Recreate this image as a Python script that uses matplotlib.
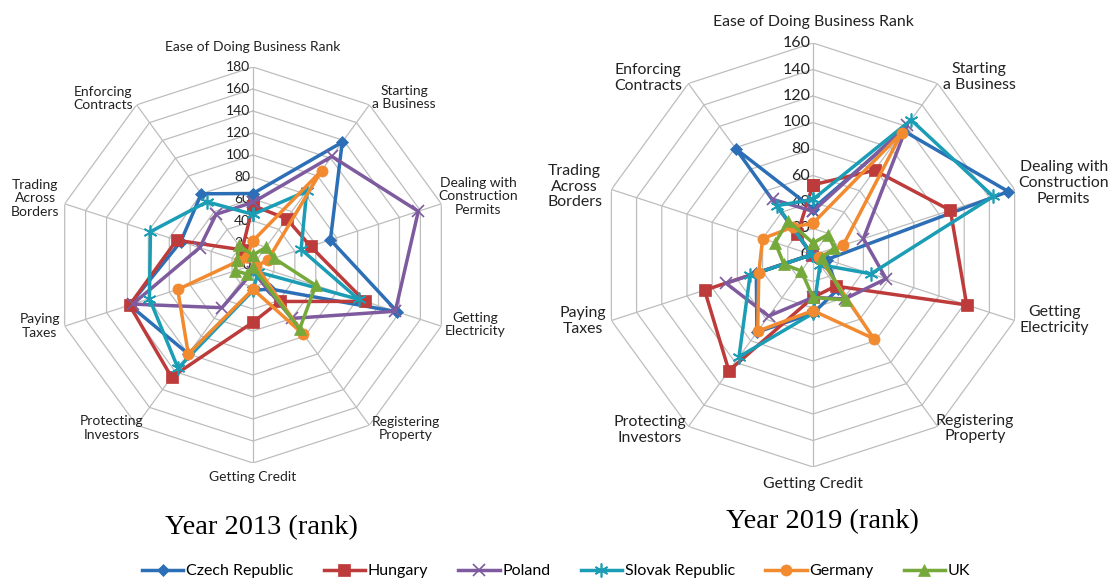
import numpy as np
import matplotlib.pyplot as plt
from matplotlib.lines import Line2D

plt.rcParams['font.family'] = ['Lato', 'DejaVu Sans']

categories = ["Ease of Doing Business Rank", "Starting\na Business",
              "Dealing with\nConstruction\nPermits", "Getting\nElectricity",
              "Registering\nProperty", "Getting Credit", "Protecting\nInvestors",
              "Paying\nTaxes", "Trading\nAcross\nBorders", "Enforcing\nContracts"]
countries = ["Czech Republic", "Hungary", "Poland", "Slovak Republic", "Germany", "UK"]

# 2013 ranks
czech_2013 = [65, 138, 74, 138, 27, 23, 100, 118, 69, 80]
hungary_2013 = [54, 52, 55, 107, 41, 52, 126, 118, 73, 17]
poland_2013 = [57, 122, 158, 136, 60, 6, 48, 115, 51, 57]
slovak_2013 = [46, 83, 46, 101, 8, 23, 116, 99, 98, 71]
germany_2013 = [22, 106, 14, 3, 78, 22, 100, 72, 13, 9]
uk_2013 = [9, 20, 20, 60, 72, 2, 10, 17, 15, 22]

# 2019 ranks
czech_2019 = [35, 116, 155, 11, 32, 44, 72, 45, 1, 99]
hungary_2019 = [53, 79, 109, 122, 29, 32, 108, 86, 1, 20]
poland_2019 = [33, 121, 40, 58, 41, 32, 57, 69, 1, 52]
slovak_2019 = [42, 126, 143, 46, 9, 44, 95, 50, 1, 46]
germany_2019 = [24, 114, 24, 5, 78, 42, 71, 43, 40, 26]
uk_2019 = [9, 19, 17, 7, 42, 32, 15, 23, 30, 32]

colors = ['#2C6FB7', '#BE3B3B', '#7E5B9E', '#1A9DB5', '#F28A30', '#76A93B']
markers = ['D', 's', 'x', (6, 2, 0), 'o', '^']
msizes = [6.5, 8, 8.5, 10, 8, 8.5]


def radar(rect, series, rmax, fs_ticks, fs_cats, label_pos):
    ax = fig.add_axes(rect, projection='polar')
    n = len(categories)
    theta = np.arange(n) * 2 * np.pi / n
    ax.set_theta_zero_location('N')
    ax.set_theta_direction(-1)
    ax.set_ylim(0, rmax)
    ax.grid(False)
    ax.spines['polar'].set_visible(False)
    ax.set_xticks([])
    ax.set_yticks([])
    ax.patch.set_alpha(0)

    closed = np.append(theta, theta[0])
    for r in range(20, rmax + 1, 20):
        ax.plot(closed, [r] * (n + 1), color='#BDBDBD', lw=0.9, zorder=1)
    for t in theta:
        ax.plot([t, t], [0, rmax], color='#BDBDBD', lw=0.9, zorder=1)
    for r in range(0, rmax + 1, 20):
        ax.annotate(str(r), xy=(0, r), xytext=(-2, 0), textcoords='offset points',
                    ha='right', va='center', fontsize=fs_ticks, color='#222222', zorder=2)

    for vals, c, m, ms in zip(series, colors, markers, msizes):
        v = np.append(vals, vals[0])
        ax.plot(closed, v, color=c, lw=2.5, marker=m, markersize=ms,
                markeredgewidth=1.2 if m in ('x', (6, 2, 0)) else 0.5,
                zorder=3, clip_on=False)

    for lab, (ang, f) in zip(categories, label_pos):
        ax.text(np.deg2rad(ang), rmax * f, lab, ha='center', va='center',
                fontsize=fs_cats, color='#222222', linespacing=1.15)
    return ax


fig = plt.figure(figsize=(11.12, 5.81), dpi=100)

left_pos = [(0, 1.10), (42, 1.14), (73, 1.19), (105, 1.16), (137, 1.13),
            (180, 1.07), (221, 1.09), (254, 1.12), (287, 1.15), (318, 1.13)]
right_pos = [(0, 1.10), (43, 1.15), (74, 1.23), (105, 1.18), (137, 1.12),
             (180, 1.08), (223, 1.13), (254, 1.13), (286, 1.17), (317, 1.14)]

W, H = 1112, 581
radar([(253 - 198) / W, (H - 265 - 198) / H, 396 / W, 396 / H],
      [czech_2013, hungary_2013, poland_2013, slovak_2013, germany_2013, uk_2013],
      180, 10, 10, left_pos)
radar([(813 - 212) / W, (H - 255 - 212) / H, 424 / W, 424 / H],
      [czech_2019, hungary_2019, poland_2019, slovak_2019, germany_2019, uk_2019],
      160, 11.5, 11.4, right_pos)

fig.text(261 / W, 1 - 528 / H, "Year 2013 (rank)", ha='center', va='center',
         family='Liberation Serif', fontsize=20.5)
fig.text(822 / W, 1 - 522 / H, "Year 2019 (rank)", ha='center', va='center',
         family='Liberation Serif', fontsize=20.5)

handles = [Line2D([], [], color=c, lw=2.5, marker=m, markersize=ms,
                  markeredgewidth=1.2 if m in ('x', (6, 2, 0)) else 0.5)
           for c, m, ms in zip(colors, markers, msizes)]
fig.legend(handles, countries, loc='center', bbox_to_anchor=(0.5, 1 - 571 / H),
           ncol=6, frameon=False, fontsize=11.5, handlelength=2.6,
           columnspacing=1.9, handletextpad=0.15)

fig.savefig('out.png', dpi=100)
